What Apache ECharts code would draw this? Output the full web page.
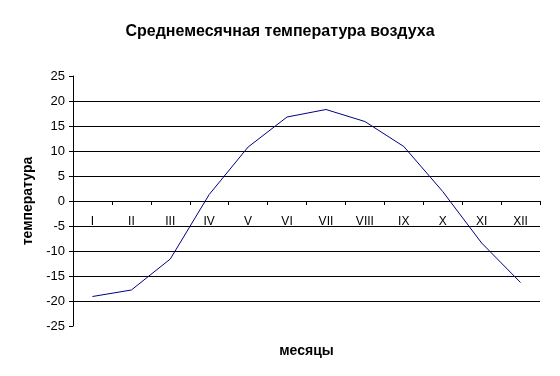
<!DOCTYPE html>
<html>
<head>
<meta charset="utf-8">
<script src="https://cdn.jsdelivr.net/npm/echarts@6/dist/echarts.min.js"></script>
<style>
  html, body { margin: 0; padding: 0; background: #fff; }
  #chart { width: 560px; height: 376px; }
</style>
</head>
<body>
<div id="chart"></div>
<script>
// months and mean temperatures
const months = ['I', 'II', 'III', 'IV', 'V', 'VI', 'VII', 'VIII', 'IX', 'X', 'XI', 'XII']
const temps = [-19.1, -17.8, -11.6, 1.3, 10.8, 16.8, 18.3, 15.9, 10.9, 1.9, -8.4, -16.3]
const yMin = -25
const yMax = 25
const yStep = 5

const font = 'Liberation Sans, Arial, sans-serif'

// grid geometry; the category axis sits on the zero line
const gridTop = 76
const gridBottom = 50
const plotH = 376 - gridTop - gridBottom
const zeroShift = Math.round(plotH * (0 - yMin) / (yMax - yMin))

const option = {
  animation: false,
  title: {
    text: 'Среднемесячная температура воздуха',
    left: 'center',
    top: 19,
    textStyle: {
      fontFamily: font,
      fontSize: 16,
      fontWeight: 'bold',
      color: '#000'
    }
  },
  grid: {
    left: 73,
    right: 20,
    top: gridTop,
    bottom: gridBottom,
    outerBoundsMode: 'none',
    containLabel: false
  },
  xAxis: {
    type: 'category',
    data: months,
    boundaryGap: true,
    position: 'bottom',
    offset: -zeroShift,
    name: 'месяцы',
    nameLocation: 'middle',
    nameGap: 143,
    nameTextStyle: {
      fontFamily: font,
      fontSize: 14,
      fontWeight: 'bold',
      color: '#000'
    },
    axisLine: {
      onZero: false,
      lineStyle: { color: '#000', width: 1 }
    },
    axisTick: {
      show: true,
      length: 4,
      lineStyle: { color: '#000' }
    },
    axisLabel: {
      margin: 15,
      fontFamily: font,
      fontSize: 12,
      color: '#000'
    },
    splitLine: { show: false }
  },
  yAxis: {
    type: 'value',
    min: yMin,
    max: yMax,
    interval: yStep,
    name: 'температура',
    nameLocation: 'middle',
    nameRotate: 90,
    nameGap: 38,
    nameTextStyle: {
      fontFamily: font,
      fontSize: 14,
      fontWeight: 'bold',
      color: '#000'
    },
    axisLine: {
      show: true,
      lineStyle: { color: '#000', width: 1 }
    },
    axisTick: {
      show: true,
      length: 4,
      lineStyle: { color: '#000' }
    },
    axisLabel: {
      margin: 8,
      fontFamily: font,
      fontSize: 13,
      color: '#000'
    },
    splitLine: {
      show: true,
      showMinLine: false,
      showMaxLine: false,
      lineStyle: { color: '#000', width: 1 }
    }
  },
  series: [
    {
      type: 'line',
      data: temps,
      symbol: 'none',
      smooth: false,
      lineStyle: { color: '#000080', width: 1 }
    }
  ]
}

const chart = echarts.init(document.getElementById('chart'))
chart.setOption(option)
</script>
</body>
</html>
